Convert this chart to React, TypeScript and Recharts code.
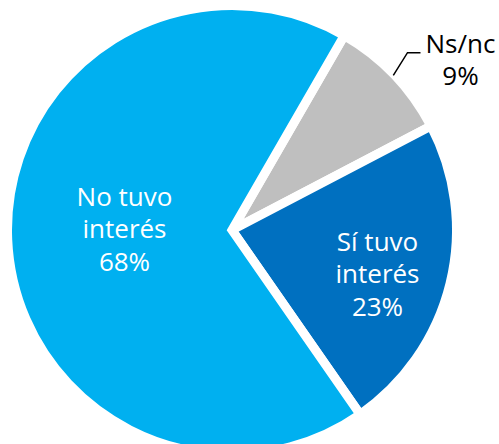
import React from "react";
import { PieChart, Pie, Cell } from "recharts";

const categories = ["Ns/nc", "Sí tuvo interés", "No tuvo interés"];
const values = [9, 23, 68];
const labelNames = [["Ns/nc"], ["Sí tuvo", "interés"], ["No tuvo", "interés"]];
const colors = ["#BFBFBF", "#0070C0", "#00B0F0"];

const data = categories.map((name, i) => ({ name, value: values[i] }));

const RAD = Math.PI / 180;
const FONT = "'Open Sans', sans-serif";
const FS = 26;
const LH = 32.5;

function polar(cx: number, cy: number, r: number, angle: number) {
  return { x: cx + r * Math.cos(-angle * RAD), y: cy + r * Math.sin(-angle * RAD) };
}

function renderLabel(props: any) {
  const { cx, cy, midAngle, outerRadius, index, value } = props;
  const lines = [...labelNames[index], `${value}%`];
  if (index === 0) {
    const p1 = polar(cx, cy, outerRadius - 1, midAngle);
    const p2 = polar(cx, cy, outerRadius + 25, midAngle + 1.5);
    const p3 = { x: p2.x + 13, y: p2.y };
    const tx = p3.x + 40;
    return (
      <g>
        <polyline
          points={`${p1.x},${p1.y} ${p2.x},${p2.y} ${p3.x},${p3.y}`}
          fill="none"
          stroke="#000"
          strokeWidth={1.5}
        />
        {lines.map((t, i) => (
          <text
            key={i}
            x={tx}
            y={p3.y + i * LH}
            textAnchor="middle"
            fill="#000"
            fontFamily={FONT}
            fontSize={FS}
          >
            {t}
          </text>
        ))}
      </g>
    );
  }
  const r = index === 1 ? 152 : 107.5;
  const p = polar(cx, cy, r, midAngle - 3);
  const mid = (lines.length - 1) / 2;
  return (
    <g>
      {lines.map((t, i) => (
        <text
          key={i}
          x={p.x}
          y={p.y + 9.5 + (i - mid) * LH}
          textAnchor="middle"
          fill="#fff"
          fontFamily={FONT}
          fontSize={FS}
        >
          {t}
        </text>
      ))}
    </g>
  );
}

export default function App() {
  return (
    <div style={{ position: "absolute", left: 0, top: 0, width: 499, height: 444, background: "#fff" }}>
      <PieChart width={499} height={444} margin={{ top: 0, right: 0, bottom: 0, left: 0 }}>
        <Pie
          data={data}
          dataKey="value"
          nameKey="name"
          cx={232}
          cy={230}
          outerRadius={224.5}
          startAngle={60}
          endAngle={-300}
          stroke="#ffffff"
          strokeWidth={9}
          label={renderLabel}
          labelLine={false}
          isAnimationActive={false}
        >
          {data.map((d, i) => (
            <Cell key={d.name} fill={colors[i]} />
          ))}
        </Pie>
      </PieChart>
    </div>
  );
}
